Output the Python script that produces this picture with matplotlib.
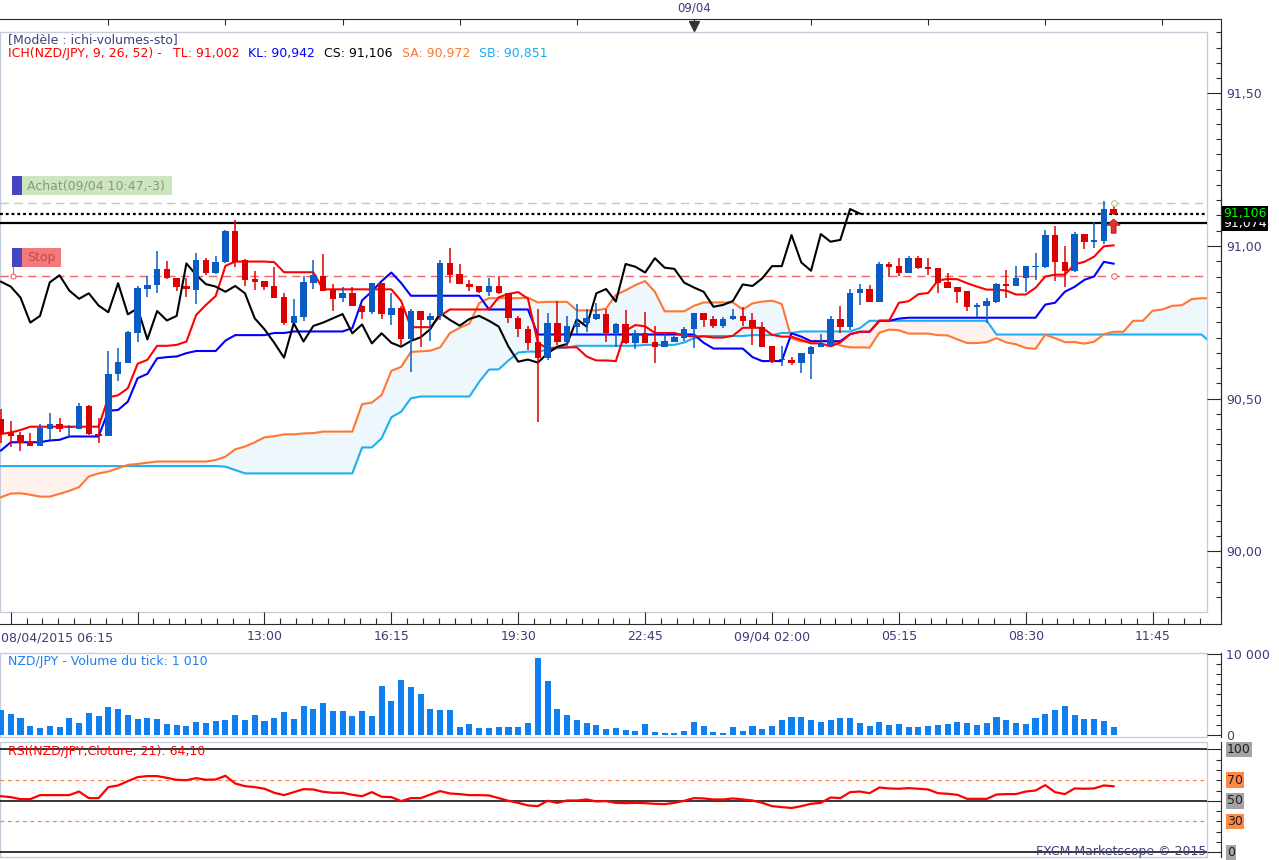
import matplotlib
matplotlib.use("Agg")
import matplotlib.pyplot as plt
import matplotlib.transforms as mtransforms
from matplotlib.patches import Rectangle, FancyArrow
from matplotlib.lines import Line2D
from matplotlib.ticker import MultipleLocator, FixedLocator, FuncFormatter
import numpy as np
import pandas as pd

W, H, DPI = 1279, 860, 100
PT = 72 / DPI  # points per pixel

# 15 minute candles, NZD/JPY, 08/04/2015 06:15 -> 09/04/2015 10:45
START = pd.Timestamp("2015-04-08 06:15")
STEP = pd.Timedelta("15min")

OPEN = [90.432, 90.389, 90.381, 90.357, 90.346, 90.401, 90.417, 90.403, 90.402, 90.476,
        90.384, 90.379, 90.580, 90.618, 90.716, 90.860, 90.871, 90.924, 90.894, 90.869,
        90.856, 90.954, 90.913, 90.947, 91.049, 90.954, 90.892, 90.885, 90.869, 90.832,
        90.749, 90.769, 90.880, 90.903, 90.856, 90.829, 90.845, 90.805, 90.783, 90.878,
        90.774, 90.798, 90.694, 90.787, 90.756, 90.771, 90.945, 90.908, 90.876, 90.869,
        90.850, 90.869, 90.845, 90.763, 90.728, 90.685, 90.634, 90.747, 90.687, 90.736,
        90.747, 90.761, 90.777, 90.714, 90.745, 90.681, 90.714, 90.685, 90.670, 90.687,
        90.700, 90.727, 90.780, 90.760, 90.739, 90.760, 90.771, 90.758, 90.736, 90.672,
        90.625, 90.626, 90.618, 90.646, 90.670, 90.672, 90.760, 90.735, 90.845, 90.859,
        90.818, 90.941, 90.934, 90.913, 90.960, 90.932, 90.927, 90.881, 90.867, 90.852,
        90.801, 90.803, 90.818, 90.874, 90.870, 90.894, 90.931, 90.930, 91.036, 90.948,
        90.919, 91.039, 91.014, 91.017, 91.120]
HIGH = [90.465, 90.428, 90.392, 90.386, 90.416, 90.454, 90.436, 90.414, 90.485, 90.478,
        90.436, 90.656, 90.667, 90.723, 90.869, 90.903, 90.985, 90.951, 90.896, 90.894,
        90.978, 90.962, 90.967, 91.052, 91.085, 90.956, 90.918, 90.886, 90.930, 90.845,
        90.827, 90.902, 90.954, 90.974, 90.876, 90.865, 90.867, 90.806, 90.880, 90.880,
        90.847, 90.804, 90.794, 90.788, 90.780, 90.954, 90.995, 90.941, 90.887, 90.870,
        90.894, 90.903, 90.846, 90.771, 90.738, 90.794, 90.780, 90.820, 90.771, 90.809,
        90.793, 90.812, 90.793, 90.747, 90.790, 90.725, 90.783, 90.738, 90.716, 90.706,
        90.734, 90.781, 90.781, 90.771, 90.769, 90.794, 90.799, 90.779, 90.750, 90.673,
        90.672, 90.637, 90.650, 90.672, 90.712, 90.771, 90.804, 90.859, 90.874, 90.872,
        90.946, 90.946, 90.960, 90.967, 90.967, 90.960, 90.928, 90.910, 90.867, 90.853,
        90.812, 90.831, 90.878, 90.921, 90.934, 90.935, 90.978, 91.052, 91.065, 91.000,
        91.045, 91.040, 91.080, 91.148, 91.134]
LOW = [90.354, 90.341, 90.330, 90.344, 90.344, 90.365, 90.392, 90.370, 90.400, 90.381,
       90.354, 90.377, 90.559, 90.616, 90.685, 90.834, 90.847, 90.892, 90.854, 90.834,
       90.809, 90.905, 90.907, 90.943, 90.930, 90.870, 90.856, 90.856, 90.829, 90.741,
       90.747, 90.754, 90.860, 90.853, 90.788, 90.818, 90.803, 90.761, 90.777, 90.760,
       90.741, 90.673, 90.588, 90.668, 90.690, 90.758, 90.878, 90.874, 90.851, 90.845,
       90.836, 90.844, 90.747, 90.703, 90.659, 90.425, 90.625, 90.676, 90.673, 90.712,
       90.719, 90.758, 90.687, 90.670, 90.679, 90.662, 90.682, 90.618, 90.669, 90.686,
       90.689, 90.665, 90.736, 90.730, 90.730, 90.759, 90.738, 90.676, 90.669, 90.618,
       90.607, 90.610, 90.585, 90.563, 90.668, 90.670, 90.716, 90.725, 90.807, 90.817,
       90.816, 90.897, 90.903, 90.912, 90.925, 90.905, 90.847, 90.863, 90.814, 90.788,
       90.766, 90.747, 90.814, 90.831, 90.869, 90.850, 90.889, 90.927, 90.886, 90.867,
       90.916, 90.990, 90.992, 91.007, 91.100]
CLOSE = [90.384, 90.378, 90.354, 90.346, 90.405, 90.416, 90.401, 90.407, 90.476, 90.383,
         90.376, 90.581, 90.619, 90.717, 90.861, 90.872, 90.925, 90.894, 90.867, 90.858,
         90.954, 90.913, 90.947, 91.049, 90.949, 90.889, 90.883, 90.867, 90.831, 90.749,
         90.771, 90.881, 90.904, 90.854, 90.827, 90.845, 90.805, 90.783, 90.878, 90.776,
         90.796, 90.694, 90.787, 90.756, 90.771, 90.943, 90.905, 90.875, 90.867, 90.850,
         90.869, 90.845, 90.763, 90.727, 90.683, 90.634, 90.747, 90.687, 90.738, 90.749,
         90.763, 90.777, 90.714, 90.743, 90.681, 90.714, 90.683, 90.670, 90.689, 90.701,
         90.728, 90.780, 90.758, 90.739, 90.761, 90.771, 90.755, 90.736, 90.670, 90.621,
         90.628, 90.618, 90.648, 90.670, 90.679, 90.760, 90.736, 90.845, 90.859, 90.818,
         90.941, 90.932, 90.913, 90.960, 90.929, 90.925, 90.880, 90.864, 90.850, 90.801,
         90.807, 90.820, 90.874, 90.869, 90.894, 90.934, 90.934, 91.036, 90.946, 90.919,
         91.039, 91.014, 91.020, 91.121, 91.106]

TENKAN = [90.384, 90.389, 90.397, 90.408, 90.408, 90.408, 90.408, 90.408, 90.408, 90.408,
          90.408, 90.504, 90.511, 90.534, 90.614, 90.627, 90.673, 90.673, 90.676, 90.687,
          90.774, 90.807, 90.836, 90.935, 90.949, 90.949, 90.949, 90.949, 90.947, 90.914,
          90.914, 90.914, 90.914, 90.858, 90.858, 90.858, 90.858, 90.858, 90.858, 90.858,
          90.858, 90.820, 90.734, 90.734, 90.734, 90.771, 90.792, 90.792, 90.792, 90.792,
          90.792, 90.832, 90.843, 90.849, 90.827, 90.683, 90.664, 90.668, 90.668, 90.668,
          90.638, 90.625, 90.625, 90.623, 90.722, 90.741, 90.737, 90.715, 90.715, 90.715,
          90.706, 90.704, 90.704, 90.700, 90.700, 90.706, 90.732, 90.732, 90.732, 90.709,
          90.703, 90.703, 90.692, 90.681, 90.681, 90.671, 90.684, 90.711, 90.719, 90.719,
          90.755, 90.755, 90.814, 90.819, 90.842, 90.846, 90.887, 90.892, 90.891, 90.878,
          90.867, 90.857, 90.857, 90.854, 90.841, 90.841, 90.863, 90.900, 90.906, 90.906,
          90.940, 90.948, 90.965, 90.999, 91.002]
KIJUN = [90.330, 90.357, 90.357, 90.357, 90.357, 90.363, 90.365, 90.376, 90.376, 90.376,
         90.376, 90.460, 90.463, 90.490, 90.567, 90.581, 90.632, 90.636, 90.638, 90.649,
         90.656, 90.656, 90.656, 90.690, 90.708, 90.708, 90.708, 90.708, 90.715, 90.715,
         90.720, 90.720, 90.720, 90.720, 90.720, 90.720, 90.731, 90.822, 90.851, 90.885,
         90.913, 90.879, 90.837, 90.837, 90.837, 90.837, 90.837, 90.837, 90.837, 90.837,
         90.792, 90.792, 90.792, 90.792, 90.792, 90.710, 90.710, 90.710, 90.710, 90.710,
         90.710, 90.710, 90.710, 90.710, 90.710, 90.710, 90.710, 90.710, 90.710, 90.710,
         90.710, 90.710, 90.683, 90.664, 90.664, 90.664, 90.664, 90.636, 90.623, 90.623,
         90.623, 90.714, 90.703, 90.688, 90.688, 90.688, 90.688, 90.711, 90.719, 90.719,
         90.755, 90.755, 90.762, 90.765, 90.765, 90.765, 90.765, 90.765, 90.765, 90.765,
         90.765, 90.765, 90.765, 90.765, 90.765, 90.765, 90.765, 90.808, 90.814, 90.850,
         90.866, 90.889, 90.900, 90.948, 90.942]
# senkou spans are displayed 26 bars ahead, so they run past the last candle
SENKOU_A = [90.177, 90.189, 90.190, 90.185, 90.179, 90.179, 90.188, 90.198, 90.210, 90.245,
            90.255, 90.261, 90.272, 90.283, 90.286, 90.290, 90.294, 90.294, 90.294, 90.294,
            90.294, 90.294, 90.299, 90.310, 90.334, 90.343, 90.357, 90.373, 90.377, 90.383,
            90.383, 90.386, 90.387, 90.392, 90.392, 90.392, 90.392, 90.482, 90.487, 90.512,
            90.591, 90.604, 90.653, 90.655, 90.657, 90.668, 90.715, 90.732, 90.746, 90.813,
            90.829, 90.829, 90.829, 90.829, 90.831, 90.815, 90.817, 90.817, 90.817, 90.789,
            90.789, 90.789, 90.795, 90.840, 90.855, 90.872, 90.885, 90.850, 90.786, 90.786,
            90.786, 90.804, 90.815, 90.815, 90.815, 90.815, 90.792, 90.812, 90.818, 90.821,
            90.810, 90.697, 90.687, 90.689, 90.689, 90.689, 90.674, 90.668, 90.668, 90.667,
            90.716, 90.726, 90.724, 90.713, 90.713, 90.713, 90.708, 90.707, 90.694, 90.682,
            90.682, 90.685, 90.698, 90.684, 90.678, 90.666, 90.663, 90.709, 90.698, 90.685,
            90.685, 90.680, 90.686, 90.711, 90.719, 90.719, 90.755, 90.755, 90.788, 90.792,
            90.804, 90.806, 90.826, 90.829, 90.828]
SENKOU_B = [90.279, 90.279, 90.279, 90.279, 90.279, 90.279, 90.279, 90.279, 90.279, 90.279,
            90.279, 90.279, 90.279, 90.279, 90.279, 90.279, 90.279, 90.279, 90.279, 90.279,
            90.279, 90.279, 90.279, 90.277, 90.266, 90.255, 90.255, 90.255, 90.255, 90.255,
            90.255, 90.255, 90.255, 90.255, 90.255, 90.255, 90.255, 90.340, 90.340, 90.370,
            90.439, 90.457, 90.501, 90.507, 90.507, 90.507, 90.507, 90.507, 90.507, 90.555,
            90.595, 90.596, 90.625, 90.651, 90.654, 90.654, 90.660, 90.665, 90.667, 90.673,
            90.673, 90.673, 90.673, 90.673, 90.673, 90.673, 90.676, 90.676, 90.676, 90.676,
            90.684, 90.698, 90.705, 90.705, 90.705, 90.705, 90.705, 90.708, 90.708, 90.708,
            90.715, 90.715, 90.720, 90.720, 90.720, 90.720, 90.720, 90.720, 90.731, 90.755,
            90.755, 90.755, 90.755, 90.755, 90.755, 90.755, 90.755, 90.755, 90.755, 90.755,
            90.755, 90.755, 90.710, 90.710, 90.710, 90.710, 90.710, 90.710, 90.710, 90.710,
            90.710, 90.710, 90.710, 90.710, 90.710, 90.710, 90.710, 90.710, 90.710, 90.710,
            90.710, 90.710, 90.710, 90.710, 90.683]
CHIKOU_SHIFT = 26

VOLUME = [3090, 2600, 2100, 1110, 865, 1110, 990, 2100, 1480, 2720,
          2350, 3460, 3210, 2470, 1980, 2100, 1980, 1360, 1240, 1110,
          1610, 1480, 1730, 1850, 2470, 1850, 2470, 1730, 2100, 2840,
          1980, 3580, 3210, 3960, 2970, 2970, 2350, 2970, 2350, 6060,
          4200, 6800, 5930, 5070, 3210, 3090, 3090, 990, 1360, 865,
          865, 990, 990, 990, 1480, 9520, 6670, 3210, 2470, 1850,
          1480, 1240, 740, 865, 620, 490, 1360, 370, 250, 250,
          490, 1610, 1110, 370, 250, 990, 490, 1110, 740, 1110,
          1850, 2220, 2220, 1850, 1610, 1850, 2100, 2100, 1480, 1110,
          1610, 1240, 1360, 990, 990, 1110, 1240, 1360, 1610, 1480,
          1240, 1480, 2220, 1850, 1480, 1360, 2100, 2600, 3090, 3580,
          2470, 1980, 1980, 1730, 1010]
RSI = [54.5, 53.6, 51.6, 51.6, 55.5, 55.5, 55.5, 55.5, 59.0, 52.6,
       52.6, 63.3, 64.9, 69.1, 73.0, 74.0, 74.0, 72.3, 70.4, 70.0,
       72.0, 70.4, 70.7, 74.3, 66.8, 64.2, 63.3, 61.7, 57.8, 55.5,
       58.4, 61.3, 61.0, 58.7, 57.8, 57.8, 55.8, 54.5, 58.4, 53.9,
       53.6, 49.7, 52.6, 52.6, 56.1, 59.4, 57.1, 56.5, 55.5, 55.5,
       55.2, 52.6, 50.0, 48.0, 45.5, 44.8, 50.0, 48.0, 50.3, 50.3,
       51.3, 49.4, 49.7, 48.0, 47.7, 48.0, 47.7, 47.1, 46.8, 48.0,
       50.0, 52.6, 52.3, 51.3, 51.3, 52.3, 51.3, 50.3, 48.0, 44.8,
       43.9, 43.0, 44.8, 47.1, 48.0, 53.2, 52.6, 58.4, 59.0, 57.4,
       62.9, 62.0, 61.7, 62.3, 61.7, 61.0, 57.4, 56.8, 55.8, 51.9,
       51.9, 51.9, 56.1, 56.5, 56.5, 59.0, 60.0, 65.2, 58.4, 56.5,
       62.0, 61.7, 62.0, 64.9, 64.1]
RSI_LEVELS = [100, 70, 50, 30, 0]

# order levels
LIMIT_LEVEL = 91.140
STOP_LEVEL = 90.903
ASK_LEVEL = 91.074

BOTTOM_TICKS = pd.date_range("2015-04-08 06:30", periods=10, freq="195min")
BOTTOM_LABELS = ["", "", "13:00", "16:15", "19:30", "22:45", "09/04 02:00", "05:15", "08:30", "11:45"]
TOP_TICKS = pd.date_range("2015-04-08 09:00", periods=10, freq="3h")
DAY_CHANGE = pd.Timestamp("2015-04-09 00:00")

BULL = "#0a5cc4"
BEAR = "#dd0000"
DARK = "#2a2a2a"
FRAME = "#c5cddc"
LABEL = "#3c3c78"
TXT = 9


def bar_index(t):
    return (t - START) / STEP


def px_box(x0, y0, x1, y1):
    return [x0 / W, 1 - y1 / H, (x1 - x0) / W, (y1 - y0) / H]


def fy(y):
    return 1 - y / H


def style_panel(a):
    for s in ("left", "top", "bottom"):
        a.spines[s].set_visible(False)
    a.spines["right"].set_position(("outward", 14 * PT))
    a.spines["right"].set_color(DARK)
    a.yaxis.tick_right()
    a.tick_params(axis="y", which="major", direction="in", length=14 * PT, width=0.8,
                  color=DARK, labelsize=9, labelcolor=LABEL, pad=5 * PT)
    a.tick_params(axis="y", which="minor", direction="in", length=5 * PT, width=0.8, color=DARK)
    a.add_patch(Rectangle((0, 0), 1, 1, transform=a.transAxes, fill=False, ec=FRAME,
                          lw=1, clip_on=False, zorder=0.5))
    a.set_xticks([])
    a.set_xlim(-0.1, 123.57)


fig = plt.figure(figsize=(W / DPI, H / DPI), dpi=DPI)
fig.patch.set_facecolor("white")

ax = fig.add_axes(px_box(0, 32, 1207, 612))
axv = fig.add_axes(px_box(0, 653, 1207, 737))
axr = fig.add_axes(px_box(0, 742, 1207, 857))
for a in (ax, axv, axr):
    style_panel(a)

idx = np.arange(len(CLOSE))
o, h, l, c = map(np.array, (OPEN, HIGH, LOW, CLOSE))

# ---- ichimoku cloud
xs = np.arange(len(SENKOU_A))
sa, sb = np.array(SENKOU_A), np.array(SENKOU_B)
ax.fill_between(xs, sa, sb, where=sa >= sb, interpolate=True, color="#eef7fc", lw=0, zorder=1)
ax.fill_between(xs, sa, sb, where=sa < sb, interpolate=True, color="#fff2ee", lw=0, zorder=1)
ax.plot(xs, sb, color="#1eaff0", lw=1.5, zorder=2)
ax.plot(xs, sa, color="#ff7733", lw=1.5, zorder=2)
ax.plot(idx, KIJUN, color="#0000ff", lw=1.5, zorder=3)
ax.plot(idx, TENKAN, color="#ff0000", lw=1.5, zorder=3)
ax.plot(idx[:-CHIKOU_SHIFT], c[CHIKOU_SHIFT:], color="black", lw=1.5, zorder=3)

# ---- order lines
ax.axhline(LIMIT_LEVEL, color="#b5d6a5", lw=1, ls=(0, (6, 4)), zorder=2.5)
ax.axhline(STOP_LEVEL, color="#f06464", lw=1, ls=(0, (6, 4)), zorder=2.5)
ax.axhline(CLOSE[-1], color="black", lw=1.6, ls=(0, (1.3, 1.3)), zorder=2.5)
ax.axhline(ASK_LEVEL, color="black", lw=1.6, zorder=2.5)
ax.plot(idx[-1], LIMIT_LEVEL, "o", ms=4, mfc="white", mec="#a8cc98", mew=0.8, zorder=5)
ax.plot(idx[-1], STOP_LEVEL, "o", ms=4, mfc="white", mec="#f06464", mew=0.8, zorder=5)

# ---- candles
cols = np.where(c >= o, BULL, BEAR)
ax.vlines(idx, l, h, colors=cols, lw=1.1, zorder=4)
ax.bar(idx, np.maximum(np.abs(c - o), 0.004), bottom=np.minimum(o, c), width=0.66,
       color=cols, lw=0, zorder=4)

ax.add_patch(FancyArrow(idx[-1], 91.042, 0, 0.046, width=0.5, head_width=1.35, head_length=0.02,
                        length_includes_head=True, fc="#e53030", ec="#a81010", lw=0.6, zorder=6))

ax.set_ylim(89.801, 91.701)
ax.yaxis.set_major_locator(MultipleLocator(0.5))
ax.yaxis.set_minor_locator(MultipleLocator(0.05))
ax.yaxis.set_major_formatter(FuncFormatter(lambda v, p: f"{v:.2f}".replace(".", ",")))

# time axis at the bottom of the price panel
ax.spines["bottom"].set_visible(True)
ax.spines["bottom"].set_position(("outward", 12 * PT))
ax.spines["bottom"].set_color(DARK)
ax.set_xticks([bar_index(t) for t in BOTTOM_TICKS], BOTTOM_LABELS)
ax.xaxis.set_minor_locator(FixedLocator(np.arange(bar_index(BOTTOM_TICKS[0]), 124, 13 / 8)))
ax.tick_params(axis="x", which="major", direction="in", length=12 * PT, width=0.8, color=DARK,
               labelsize=9, labelcolor=LABEL, pad=6 * PT)
ax.tick_params(axis="x", which="minor", direction="in", length=6 * PT, width=0.8, color=DARK)
fig.text(0.001, fy(638), "08/04/2015 06:15", color=LABEL, size=9, va="center", ha="left")

# top time strip
top = ax.secondary_xaxis(1 + 13 / 580)
top.set_xticks([bar_index(t) for t in TOP_TICKS], [""] * len(TOP_TICKS))
top.tick_params(direction="in", length=6 * PT, width=0.8, color=DARK)
top.spines["top"].set_color(DARK)
blend_x = mtransforms.blended_transform_factory(ax.transData, fig.transFigure)
fig.text(bar_index(DAY_CHANGE), fy(8), "09/04", transform=blend_x, ha="center", va="center",
         color=LABEL, size=8.5)
ax.plot([bar_index(DAY_CHANGE)], [fy(26)], marker="v", ms=7, color="#333333",
        transform=blend_x, clip_on=False)

# corner extensions of the dark axis lines
for xy in (([1207, 1221], [19, 19]), ([1207, 1221], [624, 624]), ([1221, 1221], [19, 624])):
    fig.add_artist(Line2D([v / W for v in xy[0]], [fy(v) for v in xy[1]], color=DARK, lw=0.8))

# price tags on the right scale (the current price tag sits over the ask tag)
blend_p = mtransforms.blended_transform_factory(fig.transFigure, ax.transData)
fig.text(1223 / W, ASK_LEVEL, f"{ASK_LEVEL:.3f}".replace(".", ","), transform=blend_p,
         va="center", ha="left", color="white", size=9,
         bbox=dict(boxstyle="square,pad=0.12", fc="black", ec="none"))
fig.text(1223 / W, CLOSE[-1], f"{CLOSE[-1]:.3f}".replace(".", ","), transform=blend_p,
         va="center", ha="left", color="#00ff00", size=9,
         bbox=dict(boxstyle="square,pad=0.12", fc="black", ec="none"))


# order labels at the left
def px_rect(x0, y0, x1, y1, color):
    fig.add_artist(Rectangle((x0 / W, fy(y1)), (x1 - x0) / W, (y1 - y0) / H,
                             transform=fig.transFigure, fc=color, ec="none"))


px_rect(12, 176, 22, 195, "#4646c4")
px_rect(22, 176, 172, 195, "#cfe5c2")
fig.text(27 / W, fy(186), "Achat(09/04 10:47,-3)", color="#7f9f70", size=TXT, va="center")
px_rect(12, 248, 22, 267, "#4646c4")
px_rect(22, 248, 61, 267, "#f27a7a")
fig.text(27 / W, fy(258), "Stop", color="#c44a4a", size=TXT, va="center")
fig.add_artist(Line2D([13 / W, 13 / W], [fy(267), fy(274)], color="#f06464", lw=0.8))
fig.add_artist(Line2D([13 / W], [fy(275.5)], marker="o", ms=3.5, mfc="white", mec="#f06464", mew=0.8))

# legend of the price panel
fig.text(8 / W, fy(40), "[Modèle : ichi-volumes-sto]", color="#40407a", size=TXT, va="center")
legend = [(8, "ICH(NZD/JPY, 9, 26, 52) -", "#ff0000"),
          (173, f"TL: {TENKAN[-1]:.3f}".replace(".", ","), "#ff0000"),
          (248, f"KL: {KIJUN[-1]:.3f}".replace(".", ","), "#0000ff"),
          (324, f"CS: {CLOSE[-1]:.3f}".replace(".", ","), "#000000"),
          (402, "SA: 90,972", "#ff7733"),
          (479, "SB: 90,851", "#1eaaf0")]
for x, txt, col in legend:
    fig.text(x / W, fy(54), txt, color=col, size=TXT, va="center")

# ---- volume panel
axv.bar(idx, VOLUME, width=0.62, color="#0f80f2", lw=0)
axv.set_ylim(-247, 10123)
axv.set_yticks([0, 10000], ["0", "10 000"])
axv.yaxis.set_minor_locator(MultipleLocator(1250))
fig.text(8 / W, fy(661), f"NZD/JPY - Volume du tick: {VOLUME[-1]:,}".replace(",", " "),
         color="#1e80f0", size=TXT, va="center")

# ---- RSI panel
axr.plot(idx, RSI, color="#ff0000", lw=1.6, zorder=3)
for lev in RSI_LEVELS:
    if lev in (70, 30):
        axr.axhline(lev, color="#ff8040", lw=0.9, ls=(0, (3, 3)), zorder=2)
    else:
        axr.axhline(lev, color="black", lw=1.1, zorder=2)
axr.set_ylim(-4.56, 107.09)
axr.set_yticks([0, 50, 100])
axr.yaxis.set_minor_locator(MultipleLocator(10))
axr.tick_params(axis="y", labelright=False)
blend_r = mtransforms.blended_transform_factory(fig.transFigure, axr.transData)
for lev in RSI_LEVELS:
    fc = "#ff8848" if lev in (70, 30) else "#a4a4a4"
    fig.text(1227 / W, lev, str(lev), transform=blend_r, va="center", ha="left", color="#202020",
             size=9, bbox=dict(boxstyle="square,pad=0.1", fc=fc, ec="none"))
fig.text(8 / W, fy(751), f"RSI(NZD/JPY.Cloture, 21): {RSI[-1]:.2f}".replace(".", ","),
         color="#ff0000", size=TXT, va="center")
fig.text(1206 / W, fy(851), "FXCM Marketscope © 2015", color="#40407a", size=9,
         ha="right", va="center")

fig.savefig("out.png", dpi=DPI)
